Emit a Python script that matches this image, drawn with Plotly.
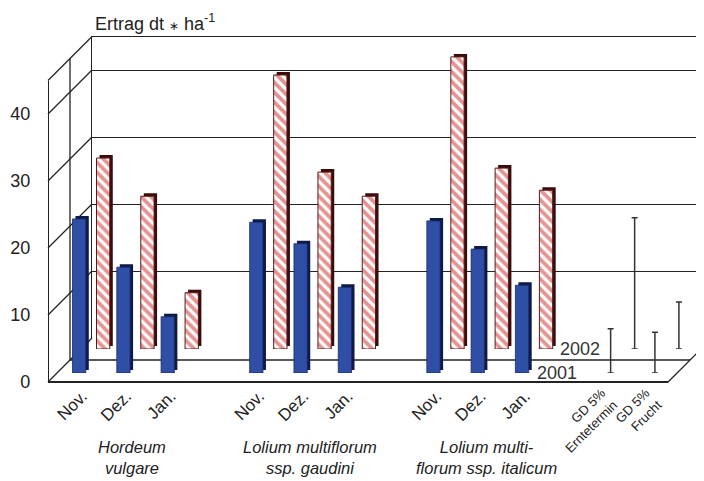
import plotly.graph_objects as go

# ---------------- data ----------------
months = ["Nov.", "Dez.", "Jan."]
group_labels = ["<i>Hordeum<br>vulgare</i>",
                "<i>Lolium multiflorum<br>ssp. gaudini</i>",
                "<i>Lolium multi-<br>florum ssp. italicum</i>"]
group_pos = [1, 5, 9]
slot_pos = [0, 1, 2, 4, 5, 6, 8, 9, 10]
yield_2001 = [23.0, 15.8, 8.4, 22.5, 19.3, 12.8, 22.7, 18.5, 13.1]
yield_2002 = [28.5, 22.8, 8.4, 40.9, 26.4, 22.8, 43.6, 27.0, 23.7]
gd_labels = ["GD 5%<br>Erntetermin", "GD 5%<br>Frucht"]
gd_pos = [12, 13]
gd_2001 = [6.6, 6.1]
gd_2002 = [19.6, 7.0]
y_ticks = [0, 10, 20, 30, 40]
series_names = ["2001", "2002"]
title_text = "Ertrag dt <span style='font-size:12px'>\u2217</span> ha<sup>-1</sup>"

# ---------------- geometry (page pixels) ----------------
W, H = 704, 481
BODY = 8           # default body margin of the html page
FX0, NSLOT = 48, 14
STEP = 44.29
FX1 = FX0 + NSLOT * STEP
FY0 = 382          # pixel of value 0 on the front plane
SCALE = 6.7        # pixels per unit
YMAX = 45
DEPTH = 44         # full depth shift (x right, y up)
OFF_2001, OFF_2002, SH = 9, 33, 3
LBL_SHIFT = 12
GD_SHIFT = 0
GROUP_SHIFT = 18
LINE = "#222222"


def px(p):
    return (p - BODY) / W


def py(p):
    return 1 - (p - BODY) / H


def dom_x(s):
    return [max(0, px(FX0 + s)), min(1, px(FX1 + s))]


def dom_y(s):
    return [py(FY0 - s), py(FY0 - s - YMAX * SCALE)]


fig = go.Figure()

blue = "#2f4fa6"
blue_dark = "#0d1a48"
red = "#c92a25"
red_dark = "#3a0d0d"

# back wall subplot (needs a trace to be drawn)
fig.add_trace(go.Scatter(x=[None], y=[None], xaxis="x", yaxis="y", hoverinfo="skip"))
fig.add_trace(go.Bar(x=slot_pos, y=yield_2002, width=0.3, xaxis="x2", yaxis="y2",
                     marker=dict(color=red_dark, line=dict(width=0)), hoverinfo="skip"))
fig.add_trace(go.Bar(x=slot_pos, y=yield_2002, width=0.3, xaxis="x3", yaxis="y3",
                     name=series_names[1],
                     marker=dict(color="white",
                                 pattern=dict(shape="\\", fgcolor=red, bgcolor="white",
                                              size=7, solidity=0.55),
                                 line=dict(color="#5a1a1a", width=1))))
fig.add_trace(go.Scatter(x=gd_pos, y=[v / 2 for v in gd_2002], xaxis="x3", yaxis="y3",
                         mode="markers", marker=dict(size=1, color="rgba(0,0,0,0)"),
                         error_y=dict(type="data", array=[v / 2 for v in gd_2002],
                                      color="#333333", thickness=1.5, width=3),
                         hoverinfo="skip"))
fig.add_trace(go.Bar(x=slot_pos, y=yield_2001, width=0.3, xaxis="x4", yaxis="y4",
                     marker=dict(color=blue_dark, line=dict(width=0)), hoverinfo="skip"))
fig.add_trace(go.Bar(x=slot_pos, y=yield_2001, width=0.3, xaxis="x5", yaxis="y5",
                     name=series_names[0],
                     marker=dict(color=blue, line=dict(color="#1a2a66", width=0.8))))
fig.add_trace(go.Scatter(x=gd_pos, y=[v / 2 for v in gd_2001], xaxis="x5", yaxis="y5",
                         mode="markers", marker=dict(size=1, color="rgba(0,0,0,0)"),
                         error_y=dict(type="data", array=[v / 2 for v in gd_2001],
                                      color="#333333", thickness=1.5, width=3),
                         hoverinfo="skip"))
fig.add_trace(go.Scatter(x=[None], y=[None], xaxis="x6", yaxis="y6", hoverinfo="skip"))
fig.add_trace(go.Scatter(x=[None], y=[None], xaxis="x7", yaxis="y6", hoverinfo="skip"))

hidden = dict(visible=False, fixedrange=True, automargin=False)
layout = dict(
    width=W, height=H,
    margin=dict(l=0, r=0, t=0, b=0, pad=0, autoexpand=False),
    paper_bgcolor="white", plot_bgcolor="rgba(0,0,0,0)",
    showlegend=False,
    font=dict(family="Liberation Sans, Arial, sans-serif", color=LINE, size=17),
    # back wall
    xaxis=dict(domain=[px(FX0 + DEPTH), 1], range=[0, 1], anchor="y", side="top",
               showline=True, linecolor=LINE, linewidth=1.3, showgrid=False,
               zeroline=False, showticklabels=False, ticks="", fixedrange=True,
               automargin=False),
    yaxis=dict(domain=dom_y(DEPTH), range=[0, YMAX], anchor="x",
               tickvals=y_ticks, showgrid=True, gridcolor=LINE, gridwidth=1.3,
               showline=True, linecolor=LINE, linewidth=1.3, zeroline=False,
               showticklabels=False, ticks="", fixedrange=True, automargin=False),
)
for i, s in zip([2, 3, 4, 5], [OFF_2002 + SH, OFF_2002, OFF_2001 + SH, OFF_2001]):
    layout[f"xaxis{i}"] = dict(domain=dom_x(s), range=[-0.5, NSLOT - 0.5], anchor=f"y{i}", **hidden)
    layout[f"yaxis{i}"] = dict(domain=dom_y(s), range=[0, YMAX], anchor=f"x{i}", **hidden)

# front plane: value axis + category labels
layout["yaxis6"] = dict(domain=dom_y(0), range=[0, YMAX], anchor="free", position=px(FX0),
                        tickvals=y_ticks, ticks="", ticklabelstandoff=14,
                        tickfont=dict(size=18), showline=True, linecolor=LINE, linewidth=1.3,
                        showgrid=False, zeroline=False, fixedrange=True, automargin=False)
layout["xaxis6"] = dict(domain=dom_x(LBL_SHIFT),
                        range=[-0.5, NSLOT - 0.5], anchor="y6",
                        tickvals=slot_pos, ticktext=months * 3, tickangle=-45,
                        tickfont=dict(size=17), ticks="", showline=False, showgrid=False,
                        zeroline=False, fixedrange=True, automargin=False)
layout["xaxis7"] = dict(domain=dom_x(GD_SHIFT),
                        range=[-0.5, NSLOT - 0.5], anchor="y6",
                        tickvals=gd_pos, ticktext=gd_labels, tickangle=-45,
                        tickfont=dict(size=13), ticks="", showline=False, showgrid=False,
                        zeroline=False, fixedrange=True, automargin=False)
fig.update_layout(**layout)

# ---------------- frame lines of the pseudo-3D box ----------------
shapes = []
for v in y_ticks + [YMAX]:
    y0 = FY0 - v * SCALE
    shapes.append(dict(type="line", xref="paper", yref="paper",
                       x0=px(FX0), y0=py(y0), x1=px(FX0 + DEPTH), y1=py(y0 - DEPTH)))
half = DEPTH / 2
shapes.append(dict(type="line", xref="paper", yref="paper",
                   x0=px(FX0 + half), y0=py(FY0 - half),
                   x1=px(FX0 + half), y1=py(FY0 - half - YMAX * SCALE)))
shapes.append(dict(type="line", xref="paper", yref="paper",
                   x0=px(FX0 + half), y0=py(FY0 - half),
                   x1=px(FX1 + half), y1=py(FY0 - half)))
shapes.append(dict(type="line", xref="paper", yref="paper",
                   x0=px(FX0), y0=py(FY0), x1=px(FX1), y1=py(FY0),
                   line=dict(width=2, color=LINE)))
shapes.append(dict(type="line", xref="paper", yref="paper",
                   x0=px(FX1), y0=py(FY0), x1=px(FX1 + DEPTH), y1=py(FY0 - DEPTH)))
for s in shapes:
    s.setdefault("line", dict(width=1.3, color=LINE))
    s["layer"] = "below"
fig.update_layout(shapes=shapes)

# ---------------- annotations ----------------
ann = []
ann.append(dict(text=title_text, xref="paper", yref="paper", x=px(FX0 + DEPTH + 1), y=py(22),
                xanchor="left", yanchor="middle", showarrow=False, font=dict(size=18)))
for g, p in zip(group_labels, group_pos):
    ann.append(dict(text=g, xref="paper", yref="paper",
                    x=px(FX0 + GROUP_SHIFT + (p + 0.5) * STEP), y=py(457),
                    xanchor="center", yanchor="middle", showarrow=False, borderpad=0,
                    font=dict(size=16.5)))
ann.append(dict(text=series_names[1], xref="x3", yref="y3", x=10.27, y=0,
                xanchor="left", yanchor="middle", showarrow=False, font=dict(size=18, color="#333")))
ann.append(dict(text=series_names[0], xref="x5", yref="y5", x=10.29, y=0,
                xanchor="left", yanchor="middle", showarrow=False, font=dict(size=18, color="#333")))
fig.update_layout(annotations=ann)

fig.write_html("out.html")
